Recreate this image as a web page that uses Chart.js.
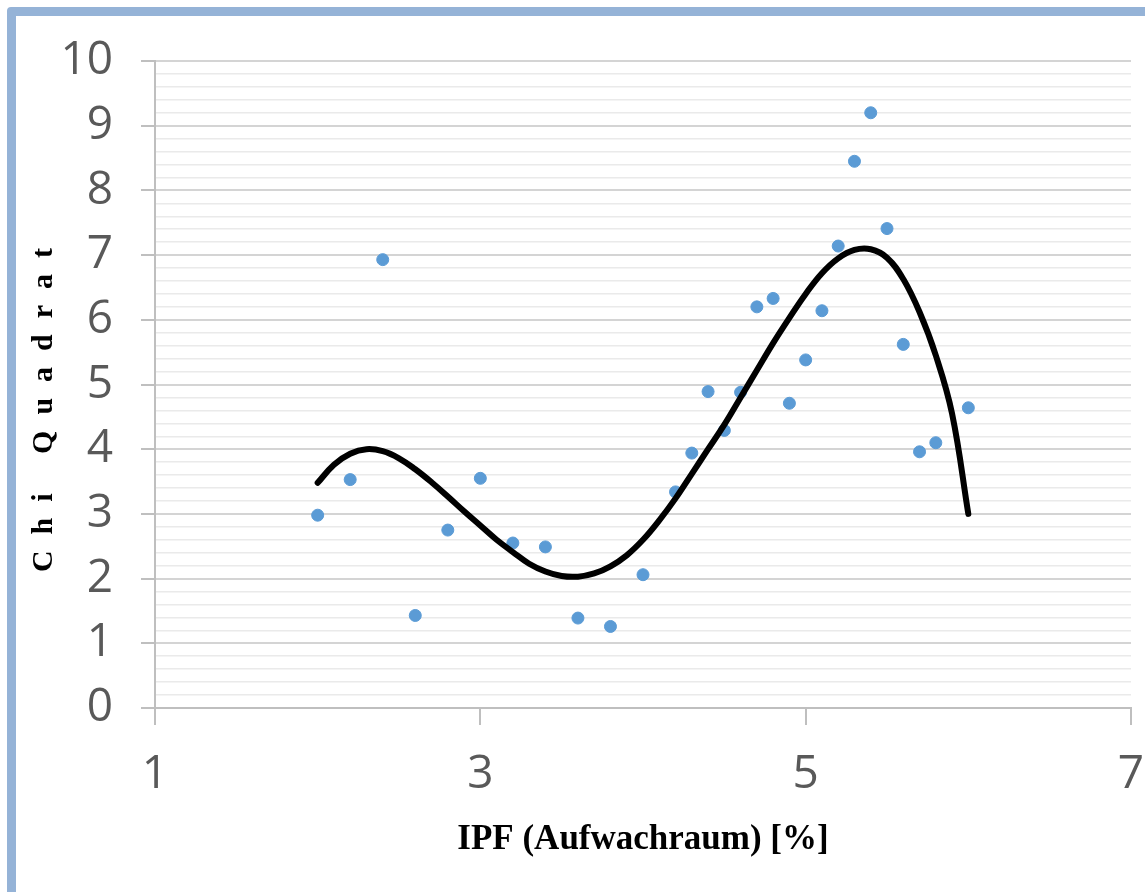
<!DOCTYPE html>
<html>
<head>
<meta charset="utf-8">
<script src="https://cdn.jsdelivr.net/npm/chart.js@4.4.1/dist/chart.umd.min.js"></script>
<style>
  html, body { margin: 0; padding: 0; background: #fff; overflow: hidden; }
  #frame {
    position: absolute; left: 7px; top: 7px; width: 1400px; height: 1200px;
    border: 9px solid #95B3D7; border-radius: 4px; box-sizing: border-box;
  }
  #wrap { position: absolute; left: 0; top: 0; width: 1145px; height: 892px; }
</style>
</head>
<body>
<div id="frame"></div>
<div id="wrap"><canvas id="chiChart" width="1145" height="892"></canvas></div>
<script>
// measured points
const ipfValues = [2.0, 2.2, 2.4, 2.6, 2.8, 3.0, 3.2, 3.4, 3.6, 3.8, 4.0, 4.2, 4.3, 4.4, 4.5,
                   4.6, 4.7, 4.8, 4.9, 5.0, 5.1, 5.2, 5.3, 5.4, 5.5, 5.6, 5.7, 5.8, 6.0];
const chiValues = [2.98, 3.53, 6.93, 1.43, 2.75, 3.55, 2.55, 2.49, 1.39, 1.26, 2.06, 3.34, 3.94, 4.89, 4.29,
                   4.88, 6.20, 6.33, 4.71, 5.38, 6.14, 7.14, 8.45, 9.20, 7.41, 5.62, 3.96, 4.10, 4.64];

// trend line, every 0.1
const trendX = [2.0, 2.1, 2.2, 2.3, 2.4, 2.5, 2.6, 2.7, 2.8, 2.9, 3.0, 3.1, 3.2, 3.3, 3.4, 3.5, 3.6, 3.7,
                3.8, 3.9, 4.0, 4.1, 4.2, 4.3, 4.4, 4.5, 4.6, 4.7, 4.8, 4.9, 5.0, 5.1, 5.2, 5.3, 5.4,
                5.5, 5.6, 5.7, 5.8, 5.9, 6.0];
const trendY = [3.48, 3.76, 3.93, 4.00, 3.97, 3.86, 3.69, 3.49, 3.27, 3.04, 2.82, 2.60, 2.41, 2.23, 2.11, 2.04, 2.03, 2.08,
                2.19, 2.36, 2.60, 2.90, 3.24, 3.62, 4.00, 4.38, 4.80, 5.22, 5.64, 6.03, 6.40, 6.72, 6.95, 7.08, 7.09,
                6.96, 6.63, 6.12, 5.45, 4.55, 3.00];

const xTicks = [1, 3, 5, 7];
const yMin = 0, yMax = 10, yStep = 0.2;

const isMajor = v => Math.abs(v - Math.round(v)) < 1e-6;

const yTitlePlugin = {
    id: 'yTitle',
    afterDraw(chart) {
        const ctx = chart.ctx;
        const text = 'Chi Quadrat';
        const spacing = 16;
        ctx.save();
        ctx.translate(44, 410);
        ctx.rotate(-Math.PI / 2);
        ctx.font = 'bold 30px "Liberation Serif", "Times New Roman", serif';
        ctx.letterSpacing = spacing + 'px';
        ctx.fillStyle = '#000';
        ctx.textAlign = 'left';
        ctx.textBaseline = 'middle';
        const w = ctx.measureText(text).width - spacing;
        ctx.fillText(text, -w / 2, 0);
        ctx.restore();
    }
};

const tickFont = { family: '"Open Sans", sans-serif', size: 46 };

new Chart(document.getElementById('chiChart'), {
    type: 'scatter',
    data: {
        datasets: [
            {
                type: 'line',
                data: trendX.map((x, i) => ({ x: x, y: trendY[i] })),
                borderColor: '#000',
                borderWidth: 6,
                pointRadius: 0,
                tension: 0.4,
                borderCapStyle: 'round',
                fill: false,
                order: 0
            },
            {
                data: ipfValues.map((x, i) => ({ x: x, y: chiValues[i] })),
                backgroundColor: '#5B9BD5',
                borderColor: '#5B9BD5',
                pointRadius: 6,
                order: 1
            }
        ]
    },
    options: {
        responsive: false,
        animation: false,
        layout: { padding: { top: 61, right: 14, left: 0, bottom: 0 } },
        scales: {
            x: {
                type: 'linear',
                min: 1, max: 7,
                afterBuildTicks: s => { s.ticks = xTicks.map(v => ({ value: v })); },
                afterFit: s => { s.height = 184; s.paddingLeft = 0; s.paddingRight = 0; },
                ticks: { color: '#595959', font: tickFont, padding: 22, maxRotation: 0 },
                grid: { drawOnChartArea: false, tickLength: 17, tickColor: '#BFBFBF', lineWidth: 2 },
                border: { color: '#BFBFBF', width: 2 },
                title: {
                    display: true,
                    text: 'IPF (Aufwachraum) [%]',
                    color: '#000',
                    font: { family: '"Liberation Serif", "Times New Roman", serif', size: 35, weight: 'bold' },
                    padding: { top: 0, bottom: 31 }
                }
            },
            y: {
                min: yMin, max: yMax,
                afterFit: s => { s.width = 155; },
                ticks: {
                    stepSize: yStep,
                    autoSkip: false,
                    color: '#595959',
                    font: tickFont,
                    padding: 28,
                    callback: v => isMajor(v) ? Math.round(v) : ''
                },
                grid: {
                    tickLength: 14,
                    color: c => isMajor(c.tick.value) ? '#D4D4D4' : '#EAEAEA',
                    lineWidth: c => isMajor(c.tick.value) ? 2 : 1.5,
                    tickColor: c => isMajor(c.tick.value) ? '#BFBFBF' : 'rgba(0,0,0,0)'
                },
                border: { color: '#BFBFBF', width: 2 }
            }
        },
        plugins: {
            legend: { display: false },
            tooltip: { enabled: false }
        }
    },
    plugins: [yTitlePlugin]
});
</script>
</body>
</html>
